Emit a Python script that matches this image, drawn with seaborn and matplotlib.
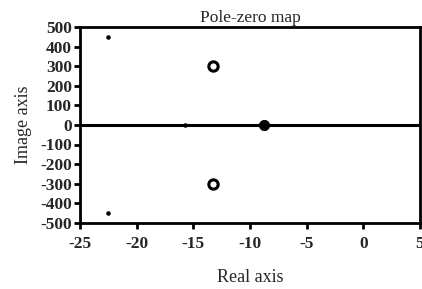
import pandas as pd
import matplotlib.pyplot as plt
import seaborn as sns

# pole / zero locations
pole_re = [-22.5, -22.5, -15.7]
pole_im = [450, -450, 0]
zero_re = [-13.3, -13.3]
zero_im = [300, -300]
big_re = [-8.8]
big_im = [0]

sns.set_style('ticks')
plt.rcParams['font.family'] = ['Liberation Serif', 'DejaVu Serif']
plt.rcParams['axes.unicode_minus'] = False

fig, ax = plt.subplots(figsize=(4.22, 2.89), dpi=100)

poles = pd.DataFrame({'re': pole_re, 'im': pole_im})
zeros = pd.DataFrame({'re': zero_re, 'im': zero_im})
big = pd.DataFrame({'re': big_re, 'im': big_im})

ax.axhline(0, color='black', lw=2.2, zorder=1)
sns.scatterplot(data=poles, x='re', y='im', ax=ax, color='black', s=9,
                edgecolor='black', zorder=3)
sns.scatterplot(data=zeros, x='re', y='im', ax=ax, facecolor='white', s=45,
                edgecolor='black', linewidth=2.2, zorder=3)
sns.scatterplot(data=big, x='re', y='im', ax=ax, color='black', s=55,
                edgecolor='black', zorder=3)

ax.set_xlim(-25, 5)
ax.set_ylim(-500, 500)
ax.set_xticks(range(-25, 6, 5))
ax.set_yticks(range(-500, 501, 100))
for s in ax.spines.values():
    s.set_linewidth(2)
    s.set_color('black')
ax.tick_params(width=2, length=4, color='black', labelsize=12.5, pad=2)
ax.tick_params(axis='x', pad=6)
for lbl in ax.get_xticklabels() + ax.get_yticklabels():
    lbl.set_fontweight('bold')

ax.set_title('Pole-zero map', fontsize=12.5, pad=4)
ax.set_xlabel('Real axis', fontsize=13, labelpad=12)
ax.set_ylabel('Image axis', fontsize=13, labelpad=6)

fig.subplots_adjust(left=0.19, right=0.995, top=0.905, bottom=0.23)
fig.savefig('out.png', dpi=100)
